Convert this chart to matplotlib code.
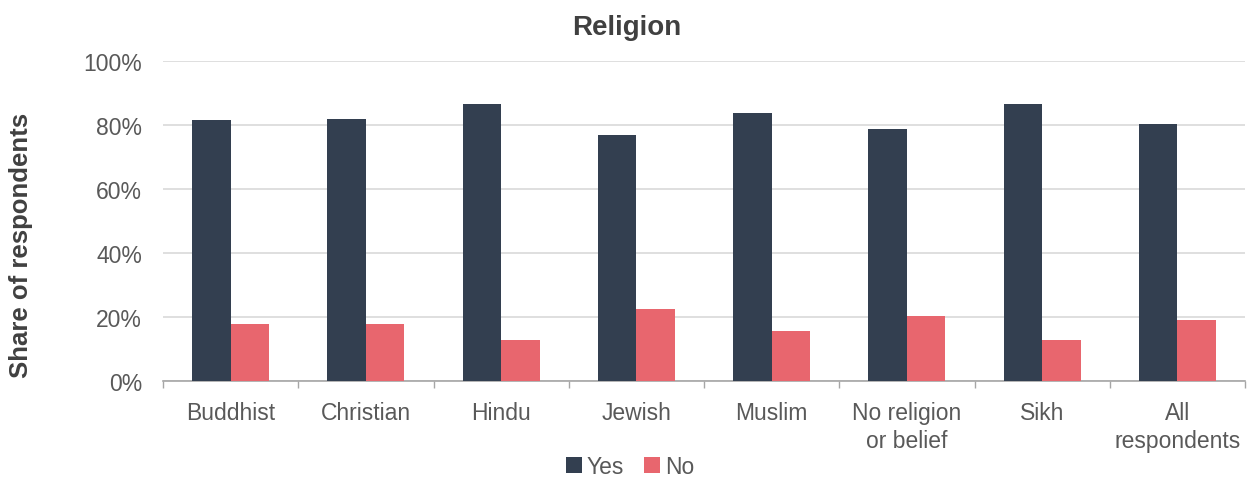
import numpy as np
import matplotlib.pyplot as plt

# Data
categories = ['Buddhist', 'Christian', 'Hindu', 'Jewish', 'Muslim',
              'No religion\nor belief', 'Sikh', 'All\nrespondents']
yes_share = [81.7, 81.9, 86.6, 77.0, 83.7, 79.0, 86.6, 80.3]
no_share = [17.9, 17.8, 13.1, 22.7, 15.9, 20.6, 13.1, 19.3]
y_ticks = [0, 20, 40, 60, 80, 100]

plt.rcParams['font.family'] = ['Liberation Sans', 'DejaVu Sans']

col_yes = '#333F50'
col_no = '#E8666E'
txt = '#595959'

fig = plt.figure(figsize=(12.5, 4.81), dpi=100)
ax = fig.add_axes([0.1304, 0.2048, 0.8656, 0.6657])

x = np.arange(len(categories))
w = 0.285
ax.bar(x - w / 2, yes_share, w, color=col_yes, label='Yes', zorder=3)
ax.bar(x + w / 2, no_share, w, color=col_no, label='No', zorder=3)

ax.set_xlim(-0.5, len(categories) - 0.5)
ax.set_ylim(0, 100)
ax.set_yticks(y_ticks)
ax.set_yticklabels([f'{v}%' for v in y_ticks])
ax.tick_params(axis='y', length=0, pad=15, labelsize=16.5, labelcolor=txt)
ax.yaxis.grid(True, color='#D9D9D9', linewidth=1.2, zorder=0)

# tick marks between categories, labels at the centres
ax.set_xticks(np.arange(len(categories) + 1) - 0.5)
ax.set_xticklabels([])
ax.set_xticks(x, minor=True)
ax.set_xticklabels(categories, minor=True, linespacing=1.3)
ax.tick_params(axis='x', which='major', length=5, width=1, color='#A6A6A6')
ax.tick_params(axis='x', which='minor', length=0, pad=14, labelsize=16.5, labelcolor=txt)

for s in ['top', 'right', 'left']:
    ax.spines[s].set_visible(False)
ax.spines['bottom'].set_color('#A6A6A6')
ax.spines['bottom'].set_linewidth(1.2)

# title sits left of the axes centre in the reference
fig.text(0.501, 0.942, 'Religion', ha='center', va='center',
         fontsize=20, fontweight='bold', color='#404040')
fig.text(0.017, 0.489, 'Share of respondents', rotation=90, ha='center', va='center',
         fontsize=18.5, fontweight='bold', color='#404040')

fig.legend(loc='center', bbox_to_anchor=(0.504, 0.028), ncol=2, frameon=False,
           fontsize=16.5, handlelength=0.7, handleheight=0.7, handletextpad=0.2,
           columnspacing=0.9, labelcolor=txt)

fig.savefig('out.png', dpi=100)
